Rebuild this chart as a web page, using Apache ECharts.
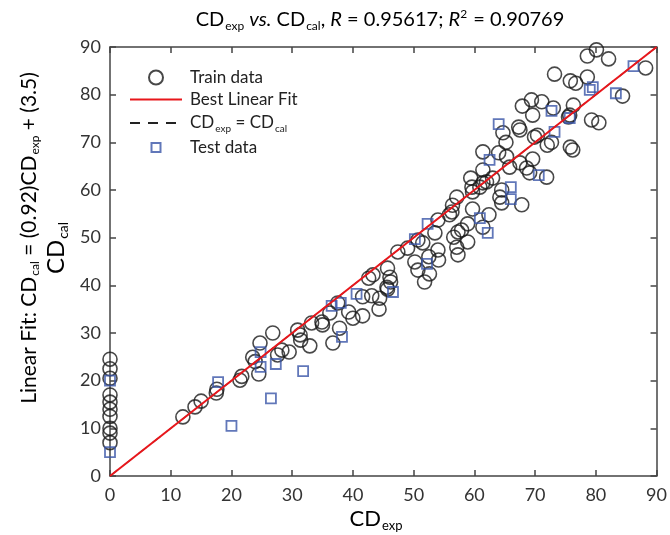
<!DOCTYPE html>
<html><head><meta charset="utf-8">
<script src="https://cdn.jsdelivr.net/npm/echarts@6/dist/echarts.min.js"></script>
<style>html,body{margin:0;padding:0;background:#fff}#c{width:670px;height:535px}</style>
</head><body><div id="c"></div>
<script>
// x = 0 column (train circles, CD_exp = 0)
const trainZeroY = [24.5, 22.5, 20.5, 17, 15.5, 14, 12.5, 10, 9, 7];
const trainPoints = [
[12.0,12.4],[14.0,14.5],[15.0,15.7],[17.5,17.4],[17.6,18.2],[21.4,20.1],[21.7,20.9],[23.5,24.9],[23.9,24.0],[24.5,21.4],
[24.7,27.9],[26.8,30.0],[27.6,25.4],[28.3,26.4],[29.5,26.0],[30.9,30.6],[31.3,29.6],[31.4,28.5],[32.9,27.3],[33.2,32.1],
[34.9,32.3],[35.0,31.7],[36.7,27.9],[36.2,34.2],[37.5,36.3],[37.8,31.0],[39.3,34.4],[40.0,33.1],[41.6,33.6],[41.6,37.6],
[43.1,37.8],[44.4,37.3],[44.3,35.0],[42.6,41.5],[43.3,42.2],[45.7,43.6],[46.1,41.7],[46.2,40.7],[45.6,39.6],[45.7,39.2],
[47.4,47.0],[49.0,47.8],[50.2,44.9],[50.7,43.2],[50.7,49.5],[51.5,48.9],[53.5,51.0],[54.0,53.7],[51.8,40.7],[52.6,42.4],
[52.5,46.0],[54.1,45.3],[54.0,47.4],[55.9,54.8],[56.3,55.4],[57.1,58.5],[56.4,56.8],[56.6,50.1],[57.3,51.2],[57.9,51.6],
[58.9,52.9],[57.1,48.0],[57.3,46.4],[58.9,49.1],[59.7,56.0],[59.4,62.5],[59.6,60.6],[59.7,59.6],[61.4,61.5],[61.4,64.2],
[61.4,68.0],[62.0,61.7],[63.0,62.5],[62.4,54.8],[61.4,52.2],[64.7,72.0],[65.2,70.0],[64.0,67.8],[65.3,67.0],[65.8,64.8],
[64.5,60.0],[64.2,58.5],[64.5,57.3],[67.8,56.9],[67.3,73.2],[67.5,72.6],[67.5,65.7],[68.6,64.6],[69.6,66.5],[69.1,63.6],
[71.9,62.7],[69.9,71.1],[70.4,71.5],[72.0,69.4],[72.7,70.0],[75.8,69.0],[76.2,68.4],[67.9,77.6],[69.4,78.9],[71.1,78.5],
[69.6,75.7],[73.0,77.2],[76.3,77.8],[75.7,75.7],[75.5,75.3],[79.3,74.7],[80.5,74.1],[73.2,84.3],[75.8,82.9],[76.7,82.4],
[78.6,83.7],[84.4,79.7],[80.1,89.4],[78.6,88.1],[82.1,87.5],[88.2,85.6],[60.9,60.6]
];
const testPoints = [
[0,20],[0,5],[17.8,19.7],[20.0,10.5],[24.8,26.0],[24.8,22.9],[26.5,16.3],[27.3,23.5],[31.8,22.0],[36.5,35.7],
[38.0,36.3],[38.2,29.2],[40.6,38.2],[46.6,38.6],[50.2,49.7],[52.3,52.9],[52.2,44.5],[60.9,54.1],[62.2,51.0],[62.5,66.3],
[64.0,73.8],[66.0,60.6],[66.0,58.1],[70.6,63.1],[72.7,76.6],[73.2,72.2],[75.7,75.1],[79.0,81.0],[79.5,81.6],[83.3,80.3],[86.2,86.0]
];
const fitLine = [[0,0],[90,90]];
const identityLine = [[0,0],[90,90]];
const axisMin = 0, axisMax = 90, axisStep = 10;

const trainData = trainZeroY.map(y => [0, y]).concat(trainPoints);
const FONT = 'Lato';
const richBase = (fs, lh) => ({
  n: {fontSize: fs, fontFamily: FONT, color: '#222', lineHeight: lh || 26},
  i: {fontSize: fs, fontFamily: FONT, color: '#222', fontStyle: 'italic', lineHeight: lh || 26},
  s: {fontSize: Math.round(fs*0.58), fontFamily: FONT, color: '#222', lineHeight: Math.round(fs*0.8), padding: [Math.round(fs*0.6),0,0,1]},
  sup: {fontSize: Math.round(fs*0.58), fontFamily: FONT, color: '#222', lineHeight: Math.round(fs*0.8), padding: [0,1,Math.round(fs*0.6),0]}
});

const chart = echarts.init(document.getElementById('c'), null, {renderer: 'canvas'});
const axisCommon = {
  type: 'value', min: axisMin, max: axisMax, interval: axisStep,
  axisLine: {show: true, onZero: false, lineStyle: {color: '#444', width: 1.5}},
  axisTick: {show: true, inside: true, length: 6, lineStyle: {color: '#444', width: 1.5}},
  splitLine: {show: false}
};
const legendRich = richBase(17, 23);
legendRich.f = Object.assign({}, legendRich.n, {padding: [0, 0, 0, 3]});
legendRich.s = {fontSize: 10, fontFamily: FONT, color: '#222', lineHeight: 16, padding: [12,0,0,1]};
chart.setOption({
  animation: false,
  backgroundColor: '#fff',
  grid: {left: 110, right: 13, top: 47, bottom: 59},
  xAxis: [
    Object.assign({}, axisCommon, {position: 'bottom', axisLabel: {fontSize: 18, fontFamily: FONT, color: '#333', margin: 10}}),
    Object.assign({}, axisCommon, {position: 'top', axisLabel: {show: false}})
  ],
  yAxis: [
    Object.assign({}, axisCommon, {position: 'left', axisLabel: {fontSize: 18, fontFamily: FONT, color: '#333', margin: 9}}),
    Object.assign({}, axisCommon, {position: 'right', axisLabel: {show: false}})
  ],
  legend: {
    orient: 'vertical', left: 124, top: 63, itemWidth: 52, itemHeight: 14, itemGap: 4,
    data: [
      {name: 'Train data'},
      {name: 'Best Linear Fit', itemStyle: {opacity: 0}},
      {name: 'identity', itemStyle: {opacity: 0}},
      {name: 'Test data', icon: 'path://M0,0 M2.5,2.5h9v9h-9z M14,14'}
    ],
    formatter: name => name === 'identity' ? '{f|CD}{s|exp}{n| = CD}{s|cal}' : '{f|' + name + '}',
    textStyle: {rich: legendRich}
  },
  series: [
    {name: 'Train data', type: 'scatter', data: trainData, symbol: 'circle', symbolSize: 14,
     itemStyle: {color: 'none', borderColor: '#1a1a1a', borderWidth: 1.6}, z: 3},
    {name: 'Test data', type: 'scatter', data: testPoints, symbol: 'rect', symbolSize: 10,
     itemStyle: {color: 'none', borderColor: '#3a55a8', borderWidth: 1.8}, z: 4},
    {name: 'identity', type: 'line', data: identityLine, symbol: 'none',
     lineStyle: {color: '#222', width: 1.2, type: [10, 8]}, itemStyle: {color: '#222'}, z: 5},
    {name: 'Best Linear Fit', type: 'line', data: fitLine, symbol: 'none',
     lineStyle: {color: '#e8161b', width: 2}, itemStyle: {color: '#e8161b'}, z: 6}
  ],
  graphic: [
    {type: 'text', x: 380, y: 20, style: {
      text: '{n|CD}{s|exp}{n| }{i|vs.}{n| CD}{s|cal}{n|, }{i|R}{n| = 0.95617; }{i|R}{sup|2}{n| = 0.90769}',
      rich: richBase(20), align: 'center', verticalAlign: 'middle'}},
    {type: 'text', x: 29, y: 238, rotation: Math.PI/2, style: {
      text: '{n|Linear Fit: CD}{s|cal}{n| = (0.92)CD}{s|exp}{n| + (3.5)}',
      rich: richBase(21), align: 'center', verticalAlign: 'middle'}},
    {type: 'text', x: 56, y: 248, rotation: Math.PI/2, style: {
      text: '{n|CD}{s|cal}',
      rich: richBase(24), align: 'center', verticalAlign: 'middle'}},
    {type: 'text', x: 376, y: 519, style: {
      text: '{n|CD}{s|exp}',
      rich: richBase(22), align: 'center', verticalAlign: 'middle'}}
  ]
});
</script></body></html>
